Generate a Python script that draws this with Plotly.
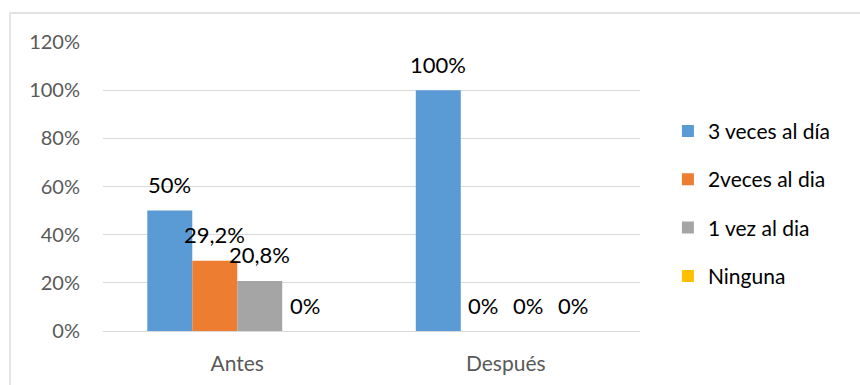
import plotly.graph_objects as go

# Frequency of toothbrushing before and after the intervention (percent of respondents)
categories = ["Antes", "Después"]
series_names = ["3 veces al día", "2veces al dia", "1 vez al dia", "Ninguna"]
tres_veces = [50, 100]
dos_veces = [29.2, 0]
una_vez = [20.8, 0]
ninguna = [0, 0]
tick_values = [0, 20, 40, 60, 80, 100, 120]
tick_labels = ["0%", "20%", "40%", "60%", "80%", "100%", "120%"]

series_values = [tres_veces, dos_veces, una_vez, ninguna]
colors = ["#5B9BD5", "#ED7D31", "#A5A5A5", "#FFC000"]

W, H = 860, 385
ML, MR, MT, MB = 103, 220, 42, 54
BARGAP = 0.33
FONT = "Lato"


def pct_label(v):
    return f"{v:g}".replace(".", ",") + "%"


fig = go.Figure()
for i, (name, vals, col) in enumerate(zip(series_names, series_values, colors)):
    fig.add_trace(go.Bar(
        x=categories, y=vals, name=name,
        marker=dict(color=col, line=dict(width=0)),
        legendgroup=f"g{i}",
        hoverinfo="skip",
    ))

# value labels centred over each bar of the group
n = len(series_names)
group_w = 1 - BARGAP
bar_w = group_w / n
annotations = []
for i, vals in enumerate(series_values):
    for c, v in enumerate(vals):
        xc = c - group_w / 2 + (i + 0.5) * bar_w
        annotations.append(dict(
            x=xc, y=v, xref="x", yref="y", text=pct_label(v),
            showarrow=False, yanchor="middle", yshift=26,
            font=dict(family=FONT, size=22, color="#000000"),
        ))

plot_w = W - ML - MR
plot_h = H - MT - MB
# outer chart border (top and left edges fall inside the image)
border = dict(
    type="rect", xref="paper", yref="paper",
    x0=(10 - ML) / plot_w, x1=1.6,
    y0=-0.4, y1=(H - MB - 13) / plot_h,
    line=dict(color="#D9D9D9", width=1.3), fillcolor="rgba(0,0,0,0)",
    layer="below",
)

fig.update_layout(
    width=W, height=H,
    margin=dict(l=ML, r=MR, t=MT, b=MB, pad=0, autoexpand=False),
    paper_bgcolor="white", plot_bgcolor="white",
    barmode="group", bargap=BARGAP, bargroupgap=0,
    font=dict(family=FONT, color="#595959"),
    showlegend=True,
    legend=dict(
        x=1.052, y=0.44, xanchor="left", yanchor="middle",
        font=dict(family=FONT, size=21, color="#000000"),
        tracegroupgap=18, traceorder="grouped",
        bgcolor="rgba(0,0,0,0)",
    ),
    annotations=annotations,
    shapes=[border],
)
fig.update_xaxes(
    showgrid=False, showline=False, zeroline=False, ticks="",
    tickfont=dict(family=FONT, size=21, color="#595959"),
    ticklabelstandoff=18, automargin=False,
)
fig.update_yaxes(
    range=[0, 120], tickvals=tick_values, ticktext=tick_labels,
    showgrid=True, gridcolor="#D9D9D9", gridwidth=1.3,
    zeroline=True, zerolinecolor="#D9D9D9", zerolinewidth=1.3,
    showline=False, ticks="",
    tickfont=dict(family=FONT, size=20, color="#595959"),
    ticklabelstandoff=22, automargin=False,
)

fig.write_html("out.html")
